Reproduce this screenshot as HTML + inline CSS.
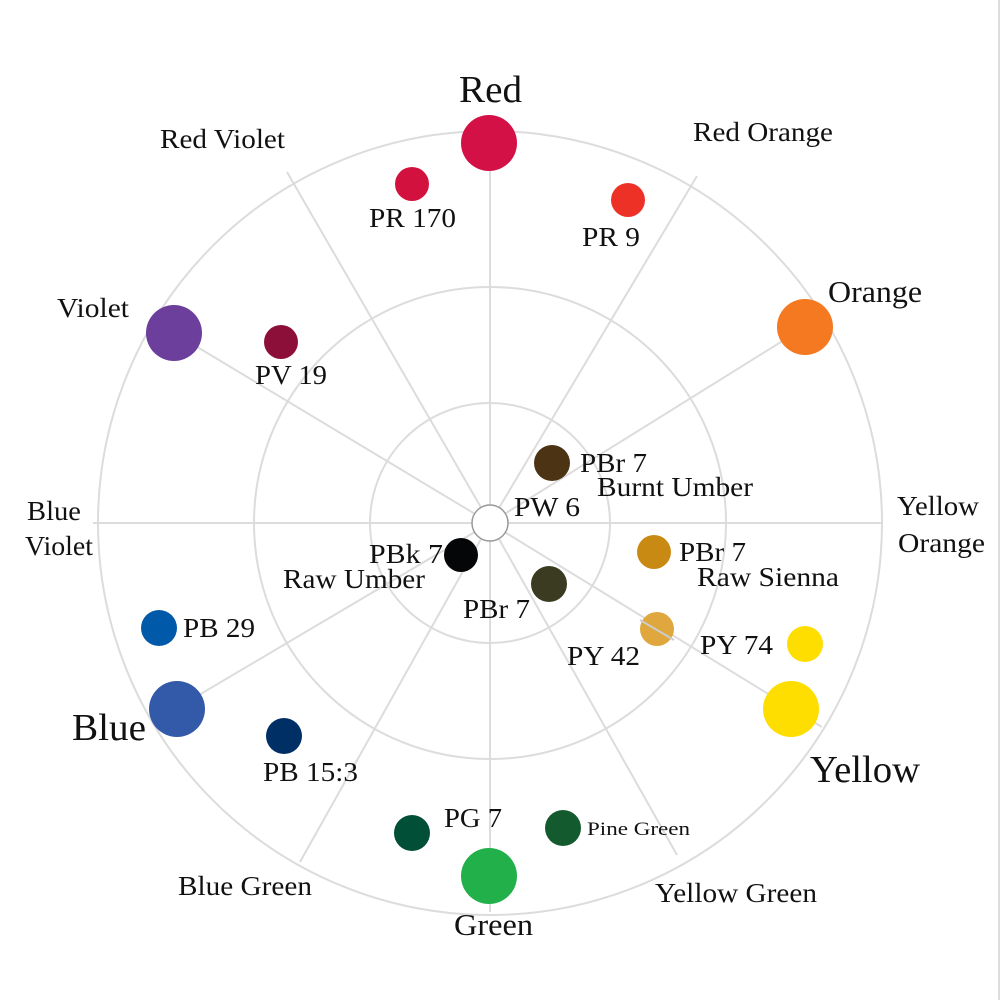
<!DOCTYPE html>
<html><head><meta charset="utf-8"><style>
html,body{margin:0;padding:0;background:#fff;}
svg{display:block}
text{font-family:"Liberation Serif",serif;fill:#111;}
</style></head><body>
<svg width="1000" height="1000" viewBox="0 0 1000 1000">
<rect width="1000" height="1000" fill="#fff"/>
<line x1="999" y1="0" x2="999" y2="1000" stroke="#ddd" stroke-width="2"/>
<g fill="none" stroke="#dcdcdc" stroke-width="2">
<circle cx="490" cy="523" r="120"/>
<circle cx="490" cy="523" r="236"/>
<circle cx="490" cy="523" r="392"/>
<line x1="490" y1="523" x2="490" y2="128"/>
<line x1="490" y1="523" x2="490" y2="912"/>
<line x1="93" y1="523" x2="882" y2="523"/>
<line x1="490" y1="523" x2="287" y2="172"/>
<line x1="490" y1="523" x2="697" y2="176"/>
<line x1="490" y1="523" x2="805" y2="327"/>
<line x1="490" y1="523" x2="174" y2="333"/>
<line x1="490" y1="523" x2="822" y2="727"/>
<line x1="490" y1="523" x2="177" y2="708"/>
<line x1="490" y1="523" x2="300" y2="862"/>
<line x1="490" y1="523" x2="677" y2="855"/>
</g>
<circle cx="489" cy="143" r="28" fill="#d41147"/>
<circle cx="412" cy="184" r="17" fill="#d2113f"/>
<circle cx="628" cy="200" r="17" fill="#ee3126"/>
<circle cx="805" cy="327" r="28" fill="#f47920"/>
<circle cx="174" cy="333" r="28" fill="#6c3f9c"/>
<circle cx="281" cy="342" r="17" fill="#8c0f3a"/>
<circle cx="552" cy="463" r="18" fill="#4b3313"/>
<circle cx="490" cy="523" r="18" fill="#fff" stroke="#999" stroke-width="1.5"/>
<circle cx="461" cy="555" r="17" fill="#050608"/>
<circle cx="549" cy="584" r="18" fill="#3a3b20"/>
<circle cx="654" cy="552" r="17" fill="#c98a13"/>
<circle cx="657" cy="629" r="17" fill="#dfa73d"/>
<line x1="640" y1="620" x2="674" y2="640" stroke="#ccc" stroke-width="2"/>
<circle cx="805" cy="644" r="18" fill="#fede00"/>
<circle cx="791" cy="709" r="28" fill="#fede00"/>
<circle cx="159" cy="628" r="18" fill="#0059a9"/>
<circle cx="177" cy="709" r="28" fill="#3359a9"/>
<circle cx="284" cy="736" r="18" fill="#002f66"/>
<circle cx="412" cy="833" r="18" fill="#004f36"/>
<circle cx="563" cy="828" r="18" fill="#135b2f"/>
<circle cx="489" cy="876" r="28" fill="#22b04a"/>

<text x="459" y="102" font-size="38" textLength="63" lengthAdjust="spacingAndGlyphs">Red</text>
<text x="160" y="148" font-size="27" textLength="125" lengthAdjust="spacingAndGlyphs">Red Violet</text>
<text x="693" y="141" font-size="27" textLength="140" lengthAdjust="spacingAndGlyphs">Red Orange</text>
<text x="828" y="302" font-size="31" textLength="94" lengthAdjust="spacingAndGlyphs">Orange</text>
<text x="57" y="317" font-size="27" textLength="72" lengthAdjust="spacingAndGlyphs">Violet</text>
<text x="27" y="520" font-size="27" textLength="54" lengthAdjust="spacingAndGlyphs">Blue</text>
<text x="25" y="555" font-size="27" textLength="68" lengthAdjust="spacingAndGlyphs">Violet</text>
<text x="897" y="515" font-size="27" textLength="82" lengthAdjust="spacingAndGlyphs">Yellow</text>
<text x="898" y="552" font-size="27" textLength="87" lengthAdjust="spacingAndGlyphs">Orange</text>
<text x="72" y="740" font-size="38" textLength="74" lengthAdjust="spacingAndGlyphs">Blue</text>
<text x="810" y="782" font-size="38" textLength="110" lengthAdjust="spacingAndGlyphs">Yellow</text>
<text x="178" y="895" font-size="27" textLength="134" lengthAdjust="spacingAndGlyphs">Blue Green</text>
<text x="454" y="935" font-size="31" textLength="79" lengthAdjust="spacingAndGlyphs">Green</text>
<text x="655" y="902" font-size="27" textLength="162" lengthAdjust="spacingAndGlyphs">Yellow Green</text>
<text x="369" y="227" font-size="27" textLength="87" lengthAdjust="spacingAndGlyphs">PR 170</text>
<text x="582" y="246" font-size="27" textLength="58" lengthAdjust="spacingAndGlyphs">PR 9</text>
<text x="255" y="384" font-size="27" textLength="72" lengthAdjust="spacingAndGlyphs">PV 19</text>
<text x="580" y="472" font-size="27" textLength="67" lengthAdjust="spacingAndGlyphs">PBr 7</text>
<text x="597" y="496" font-size="27" textLength="156" lengthAdjust="spacingAndGlyphs">Burnt Umber</text>
<text x="514" y="516" font-size="27" textLength="66" lengthAdjust="spacingAndGlyphs">PW 6</text>
<text x="369" y="563" font-size="27" textLength="74" lengthAdjust="spacingAndGlyphs">PBk 7</text>
<text x="283" y="588" font-size="27" textLength="142" lengthAdjust="spacingAndGlyphs">Raw Umber</text>
<text x="463" y="618" font-size="27" textLength="67" lengthAdjust="spacingAndGlyphs">PBr 7</text>
<text x="679" y="561" font-size="27" textLength="67" lengthAdjust="spacingAndGlyphs">PBr 7</text>
<text x="697" y="586" font-size="27" textLength="142" lengthAdjust="spacingAndGlyphs">Raw Sienna</text>
<text x="567" y="665" font-size="27" textLength="73" lengthAdjust="spacingAndGlyphs">PY 42</text>
<text x="700" y="654" font-size="27" textLength="73" lengthAdjust="spacingAndGlyphs">PY 74</text>
<text x="183" y="637" font-size="27" textLength="72" lengthAdjust="spacingAndGlyphs">PB 29</text>
<text x="263" y="781" font-size="27" textLength="95" lengthAdjust="spacingAndGlyphs">PB 15:3</text>
<text x="444" y="827" font-size="27" textLength="58" lengthAdjust="spacingAndGlyphs">PG 7</text>
<text x="587" y="835" font-size="19" textLength="103" lengthAdjust="spacingAndGlyphs">Pine Green</text>
</svg>
</body></html>
